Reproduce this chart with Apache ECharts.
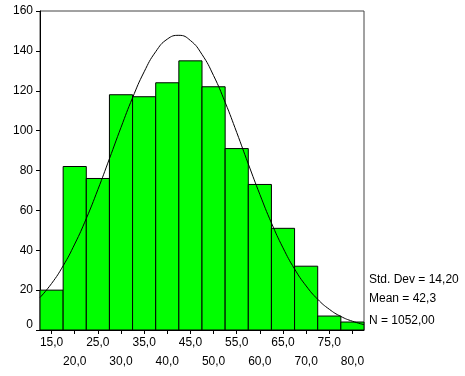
<!DOCTYPE html>
<html>
<head>
<meta charset="utf-8">
<script src="https://cdn.jsdelivr.net/npm/echarts@6/dist/echarts.min.js"></script>
<style>html,body{margin:0;padding:0;background:#fff}#c{width:465px;height:376px}</style>
</head>
<body>
<div id="c"></div>
<script>
// Histogram bins (edges) and counts
var binEdges = [12.5, 17.5, 22.5, 27.5, 32.5, 37.5, 42.5, 47.5, 52.5, 57.5, 62.5, 67.5, 72.5, 77.5, 82.5];
var counts = [20, 82, 76, 118, 117, 124, 135, 122, 91, 73, 51, 32, 7, 4];
// Normal curve
var curveX = [12.5, 15, 17.5, 20, 22.5, 25, 27.5, 30, 32.5, 35, 37.5, 40, 42.5, 45, 47.5, 50, 52.5, 55, 57.5, 60, 62.5, 65, 67.5, 70, 72.5, 75, 77.5, 80, 82.5];
var curveY = [16.3, 23.3, 32.2, 43.1, 55.9, 70.4, 85.9, 101.6, 116.5, 129.5, 139.6, 145.9, 147.8, 145.2, 138.2, 127.6, 114.2, 99.1, 83.3, 68.0, 53.7, 41.2, 30.6, 22.1, 15.4, 10.4, 6.8, 4.4, 2.7];
// Tick labels
var xTickValues = [15, 20, 25, 30, 35, 40, 45, 50, 55, 60, 65, 70, 75, 80];
var xLabelsRow1 = [15, 25, 35, 45, 55, 65, 75];
var xLabelsRow2 = [20, 30, 40, 50, 60, 70, 80];
var statLines = ['Std. Dev = 14,20', 'Mean = 42,3', 'N = 1052,00'];

var barData = [];
for (var i = 0; i < counts.length; i++) barData.push([binEdges[i], binEdges[i + 1], counts[i]]);
var lineData = curveX.map(function (x, i) { return [x, curveY[i]]; });

var font = '"Liberation Sans", Arial, sans-serif';
function fmt(v) { return v.toFixed(1).replace('.', ','); }
var chart = echarts.init(document.getElementById('c'));
chart.setOption({
  animation: false,
  grid: { left: 40, right: 101, top: 11, bottom: 46, show: true, borderColor: '#444', borderWidth: 1, backgroundColor: 'transparent' },
  xAxis: [{
    type: 'value', min: 12.5, max: 82.5, position: 'bottom',
    splitLine: { show: false },
    axisLine: { lineStyle: { color: '#000', width: 1 } },
    axisTick: { show: true, length: 4, customValues: xTickValues, lineStyle: { color: '#000' } },
    axisLabel: {
      customValues: xLabelsRow1, interval: 0, hideOverlap: false,
      margin: 7, color: '#000', fontFamily: font, fontSize: 12, formatter: fmt
    }
  }, {
    type: 'value', min: 12.5, max: 82.5, position: 'bottom', offset: 0,
    splitLine: { show: false },
    axisLine: { show: false },
    axisTick: { show: false },
    axisLabel: {
      customValues: xLabelsRow2, interval: 0, hideOverlap: false,
      margin: 26, color: '#000', fontFamily: font, fontSize: 12, formatter: fmt
    }
  }],
  yAxis: {
    type: 'value', min: 0, max: 160, interval: 20,
    splitLine: { show: false },
    axisLine: { show: true, lineStyle: { color: '#000', width: 1 } },
    axisTick: { show: true, length: 4, lineStyle: { color: '#000' } },
    axisLabel: {
      color: '#000', fontFamily: font, fontSize: 12, margin: 7,
      formatter: function (v) { return v === 0 ? '{z|0}' : String(v); },
      rich: { z: { color: '#000', fontFamily: font, fontSize: 12, padding: [0, 0, 11, 0] } }
    }
  },
  series: [
    {
      type: 'custom',
      data: barData,
      encode: { x: [0, 1], y: 2 },
      renderItem: function (params, api) {
        var p0 = api.coord([api.value(0), api.value(2)]);
        var p1 = api.coord([api.value(1), 0]);
        return {
          type: 'rect',
          shape: { x: p0[0], y: p0[1], width: p1[0] - p0[0], height: p1[1] - p0[1] },
          style: { fill: '#00ff00', stroke: '#000', lineWidth: 1 }
        };
      },
      z: 2
    },
    {
      type: 'line',
      data: lineData,
      smooth: true,
      showSymbol: false,
      lineStyle: { color: '#000', width: 1 },
      z: 3
    }
  ],
  graphic: statLines.map(function (t, i) {
    return {
      type: 'text', left: 369, top: [274, 293, 315][i],
      style: { text: t, fill: '#000', font: '12px ' + font }
    };
  })
});
</script>
</body>
</html>
